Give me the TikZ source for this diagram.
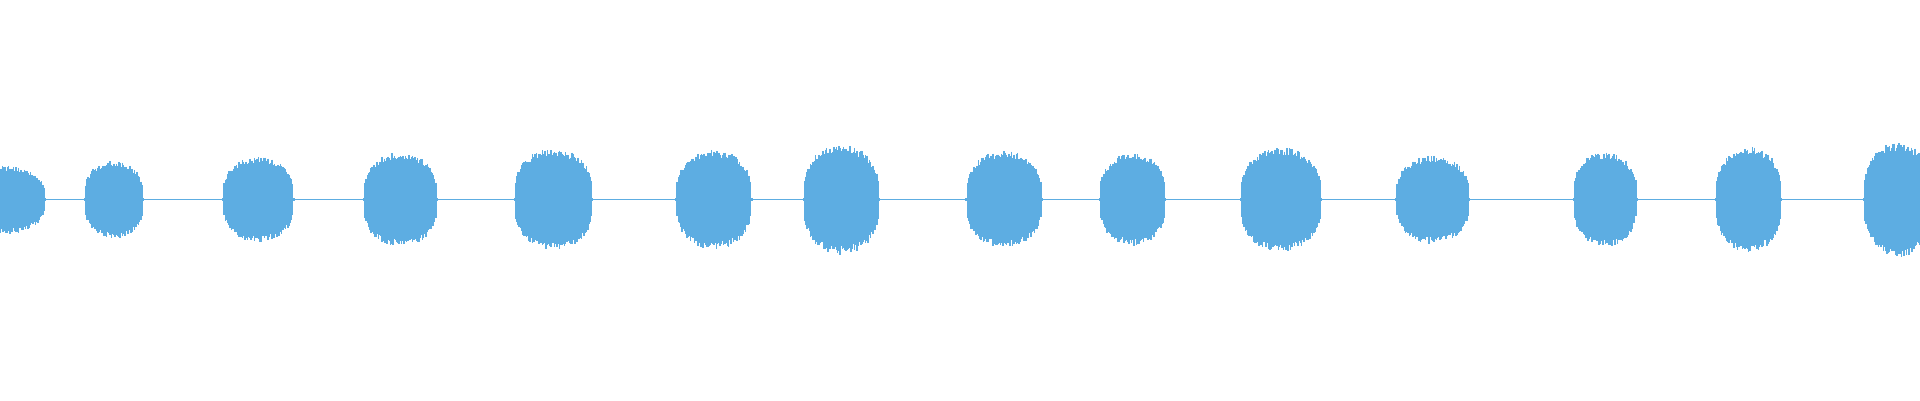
\documentclass[tikz,border=0pt]{standalone}
\definecolor{wave}{RGB}{93,173,226}
\tikzset{wavebar/.style={draw=wave,line width=1.25pt}}
\newcommand{\burst}[3]{% center, half width, amplitude
  \foreach \dx in {-#2,...,#2}{
    \pgfmathsetmacro{\u}{\dx/#2}
    \pgfmathsetmacro{\env}{#3*(max(0,1-\u*\u))^0.35}
    \pgfmathsetmacro{\up}{max(1,\env*(0.84+0.16*rnd))}
    \pgfmathsetmacro{\dn}{max(1,\env*(0.84+0.16*rnd))}
    \draw[wavebar] (#1+\dx,163-\up) -- (#1+\dx,163+\dn);
  }}
\begin{document}
\begin{tikzpicture}[x=1pt,y=-1pt]
\useasboundingbox (0,0) rectangle (1568,327);
\pgfmathsetseed{7}
\clip (0,0) rectangle (1568,327);
\draw[wave,line width=0.6pt] (0,163) -- (1568,163);
\burst{5}{32}{28}
\burst{93}{24}{32}
\burst{211}{29}{35}
\burst{327}{30}{39}
\burst{452}{32}{42}
\burst{583}{31}{41}
\burst{687}{31}{45}
\burst{820}{31}{40}
\burst{925}{27}{38}
\burst{1046}{33}{43}
\burst{1170}{30}{36}
\burst{1311}{26}{39}
\burst{1428}{27}{43}
\burst{1550}{28}{47}
\end{tikzpicture}
\end{document}
